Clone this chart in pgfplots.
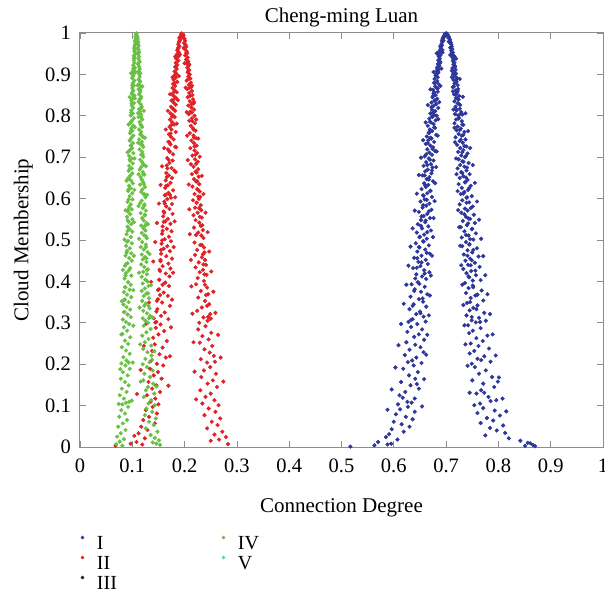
\documentclass[border=0pt]{standalone}
\usepackage{fontspec}
\setmainfont{Liberation Serif}
\usepackage{pgfplots}
\pgfplotsset{compat=1.18}
\definecolor{cI}{RGB}{45,55,155}
\definecolor{cII}{RGB}{222,35,40}
\definecolor{cIII}{RGB}{25,25,25}
\definecolor{cIV}{RGB}{105,192,68}
\definecolor{cV}{RGB}{95,205,190}
\definecolor{axisgray}{RGB}{140,140,140}
\begin{document}
\begin{tikzpicture}
\path[use as bounding box] (-80pt,-148pt) rectangle (525pt,447pt);
\begin{axis}[
  at={(0pt,0pt)}, anchor=south west,
  scale only axis, width=523pt, height=414pt,
  xmin=0, xmax=1, ymin=0, ymax=1,
  xtick={0,0.1,0.2,0.3,0.4,0.5,0.6,0.7,0.8,0.9,1},
  ytick={0,0.1,0.2,0.3,0.4,0.5,0.6,0.7,0.8,0.9,1},
  axis line style={draw=axisgray, line width=1pt},
  tick style={draw=axisgray, line width=0.8pt},
  major tick length=6pt,
  tick align=inside,
  /pgf/number format/assume math mode=true,
  ticklabel style={font=\fontsize{20.5}{20.5}\selectfont},
  xticklabel style={anchor=base, yshift=-25pt},
  yticklabel style={anchor=east, inner sep=0pt, xshift=-9pt},
  title={Cheng-ming Luan},
  title style={at={(axis description cs:0.5,1.0106)}, anchor=base, inner sep=0pt, font=\fontsize{21}{21}\selectfont},
  xlabel={Connection Degree},
  xlabel style={at={(axis description cs:0.5,-0.1594)}, anchor=base, inner sep=0pt, font=\fontsize{21}{21}\selectfont},
  ylabel={Cloud Membership},
  ylabel style={at={(axis description cs:-0.0985,0.5)}, anchor=base, inner sep=0pt, font=\fontsize{21}{21}\selectfont},
  legend columns=2,
  legend cell align=left,
  legend image code/.code={\draw[#1] plot coordinates {(0pt,5pt)};},
  legend style={at={(axis description cs:0,0)}, anchor=north west, xshift=1pt, yshift=-85.5pt,
    draw=none, fill=none, inner sep=0pt, outer sep=0pt,
    font=\fontsize{20}{20}\selectfont, column sep=11pt, row sep=0pt,
    nodes={inner xsep=2pt, inner ysep=3pt, text height=14pt, text depth=0pt}},
]
% ---------------- I (blue) ----------------
\addplot[only marks, mark=*, mark size=1.9pt, color=cI, mark options={draw=none}, forget plot] coordinates {
(0.698,0.998) (0.702,0.997) (0.701,0.999) (0.699,0.996) (0.700,0.999) (0.703,0.995)
(0.696,0.994) (0.704,0.993) (0.705,0.991) (0.695,0.990) (0.697,0.992)
(0.694,0.988) (0.706,0.987) (0.693,0.985) (0.707,0.984)
(0.692,0.981) (0.708,0.980) (0.693,0.978) (0.709,0.976)
(0.691,0.973) (0.710,0.972) (0.692,0.970) (0.689,0.968) (0.711,0.967) (0.708,0.965)
(0.690,0.962) (0.712,0.961) (0.688,0.958) (0.710,0.957) (0.691,0.955) (0.713,0.953)
(0.687,0.950) (0.711,0.949) (0.689,0.946) (0.714,0.945) (0.686,0.943) (0.712,0.941) (0.716,0.944) (0.684,0.952)
(0.688,0.938) (0.715,0.937) (0.685,0.934) (0.713,0.932) (0.689,0.930) (0.716,0.928)
(0.684,0.925) (0.714,0.924) (0.687,0.921) (0.717,0.920) (0.683,0.917) (0.712,0.915)
(0.686,0.912) (0.718,0.911) (0.682,0.908) (0.715,0.906) (0.685,0.904) (0.719,0.902) (0.681,0.901) (0.713,0.900)
(0.680,0.897) (0.717,0.895) (0.684,0.893) (0.721,0.891) (0.678,0.889) (0.714,0.887)
(0.683,0.884) (0.720,0.882) (0.677,0.880) (0.716,0.878) (0.686,0.876) (0.722,0.874)
(0.679,0.871) (0.713,0.869) (0.682,0.867) (0.723,0.865) (0.675,0.863) (0.718,0.861)
(0.684,0.858) (0.721,0.856) (0.676,0.854) (0.715,0.852) (0.680,0.850) (0.725,0.848)
(0.674,0.845) (0.719,0.843) (0.683,0.841) (0.724,0.839) (0.678,0.837) (0.716,0.835)
(0.672,0.832) (0.722,0.830) (0.681,0.828) (0.727,0.826) (0.676,0.824) (0.718,0.822)
(0.685,0.819) (0.726,0.817) (0.673,0.815) (0.720,0.813) (0.679,0.811) (0.729,0.809)
(0.670,0.806) (0.717,0.804) (0.677,0.802) (0.723,0.801) (0.682,0.800) (0.731,0.803)
(0.674,0.797) (0.725,0.795) (0.668,0.793) (0.719,0.791) (0.680,0.789) (0.730,0.787)
(0.671,0.784) (0.716,0.782) (0.676,0.780) (0.733,0.778) (0.665,0.776) (0.722,0.774)
(0.679,0.771) (0.728,0.769) (0.669,0.767) (0.720,0.765) (0.673,0.763) (0.735,0.761)
(0.667,0.758) (0.724,0.756) (0.681,0.754) (0.730,0.752) (0.663,0.750) (0.718,0.748)
(0.672,0.745) (0.737,0.743) (0.666,0.741) (0.726,0.739) (0.677,0.737) (0.732,0.735)
(0.661,0.732) (0.721,0.730) (0.670,0.728) (0.739,0.726) (0.675,0.724) (0.727,0.722)
(0.664,0.719) (0.733,0.717) (0.679,0.715) (0.723,0.713) (0.668,0.711) (0.741,0.709)
(0.673,0.706) (0.729,0.704) (0.659,0.702) (0.736,0.700)
(0.667,0.697) (0.724,0.695) (0.676,0.692) (0.731,0.690) (0.662,0.688) (0.743,0.686)
(0.671,0.683) (0.727,0.681) (0.657,0.679) (0.735,0.677) (0.674,0.675) (0.722,0.673)
(0.665,0.670) (0.739,0.668) (0.660,0.666) (0.729,0.664) (0.672,0.661) (0.745,0.659)
(0.655,0.656) (0.733,0.654) (0.668,0.652) (0.726,0.650) (0.663,0.647) (0.741,0.645)
(0.675,0.642) (0.737,0.640) (0.658,0.637) (0.724,0.635) (0.666,0.633) (0.747,0.631)
(0.661,0.628) (0.730,0.626) (0.653,0.623) (0.742,0.621) (0.670,0.618) (0.735,0.616)
(0.664,0.613) (0.728,0.611) (0.656,0.608) (0.749,0.606) (0.673,0.604) (0.739,0.602)
(0.659,0.598) (0.731,0.596) (0.651,0.593) (0.744,0.591) (0.668,0.588) (0.726,0.586)
(0.662,0.583) (0.751,0.581) (0.655,0.578) (0.736,0.576) (0.672,0.573) (0.741,0.571)
(0.648,0.568) (0.729,0.566) (0.664,0.563) (0.753,0.561) (0.657,0.558) (0.738,0.556)
(0.669,0.553) (0.746,0.551) (0.652,0.548) (0.732,0.546) (0.660,0.543) (0.755,0.541)
(0.646,0.538) (0.740,0.536) (0.666,0.533) (0.728,0.531) (0.654,0.528) (0.749,0.526)
(0.671,0.523) (0.735,0.521) (0.644,0.518) (0.757,0.516) (0.658,0.513) (0.743,0.511)
(0.650,0.508) (0.730,0.506) (0.663,0.503) (0.752,0.501)
(0.656,0.497) (0.738,0.495) (0.642,0.492) (0.745,0.490) (0.667,0.487) (0.731,0.485)
(0.649,0.482) (0.759,0.480) (0.660,0.477) (0.741,0.475) (0.645,0.472) (0.750,0.470)
(0.669,0.467) (0.734,0.465) (0.653,0.462) (0.762,0.460) (0.639,0.457) (0.746,0.455)
(0.661,0.452) (0.737,0.450) (0.647,0.447) (0.755,0.445) (0.665,0.442) (0.742,0.440)
(0.651,0.437) (0.764,0.435) (0.637,0.432) (0.733,0.430) (0.658,0.427) (0.748,0.425)
(0.668,0.422) (0.739,0.420) (0.643,0.417) (0.757,0.415) (0.654,0.412) (0.744,0.410)
(0.662,0.406) (0.766,0.403)
(0.646,0.398) (0.736,0.396) (0.634,0.393) (0.751,0.390) (0.659,0.387) (0.743,0.384)
(0.640,0.381) (0.768,0.378) (0.652,0.375) (0.738,0.372) (0.664,0.369) (0.756,0.366)
(0.632,0.363) (0.747,0.360) (0.648,0.357) (0.771,0.354) (0.656,0.351) (0.740,0.348)
(0.638,0.345) (0.760,0.342) (0.662,0.339) (0.752,0.336) (0.630,0.333) (0.745,0.330)
(0.650,0.327) (0.773,0.324) (0.643,0.321) (0.739,0.318) (0.657,0.315) (0.763,0.312)
(0.636,0.309) (0.749,0.306) (0.661,0.303) (0.757,0.301) (0.628,0.302) (0.776,0.305)
(0.645,0.297) (0.742,0.294) (0.633,0.290) (0.766,0.287) (0.654,0.284) (0.751,0.281)
(0.626,0.278) (0.744,0.275) (0.648,0.272) (0.779,0.269) (0.639,0.266) (0.758,0.263)
(0.658,0.259) (0.770,0.256) (0.624,0.253) (0.747,0.250) (0.641,0.247) (0.762,0.244)
(0.651,0.241) (0.782,0.238) (0.630,0.235) (0.754,0.232) (0.657,0.229) (0.745,0.226)
(0.621,0.222) (0.773,0.219) (0.643,0.216) (0.760,0.213) (0.635,0.209) (0.785,0.206)
(0.653,0.203) (0.749,0.201) (0.627,0.205) (0.767,0.210)
(0.638,0.197) (0.755,0.193) (0.618,0.189) (0.776,0.185) (0.646,0.181) (0.763,0.177)
(0.629,0.173) (0.788,0.169) (0.641,0.165) (0.750,0.161) (0.614,0.157) (0.771,0.153)
(0.632,0.149) (0.792,0.145) (0.648,0.141) (0.767,0.137) (0.622,0.133) (0.758,0.129)
(0.611,0.125) (0.781,0.121) (0.640,0.117) (0.796,0.113) (0.626,0.109) (0.765,0.105)
(0.608,0.103) (0.754,0.101) (0.634,0.107) (0.785,0.111) (0.617,0.119) (0.773,0.131) (0.644,0.152) (0.799,0.158)
(0.627,0.097) (0.771,0.094) (0.612,0.091) (0.793,0.088) (0.640,0.085) (0.760,0.082)
(0.604,0.079) (0.803,0.076) (0.623,0.073) (0.778,0.070) (0.636,0.067) (0.790,0.064)
(0.600,0.061) (0.766,0.058) (0.615,0.055) (0.809,0.052) (0.630,0.049) (0.784,0.046)
(0.596,0.043) (0.797,0.040) (0.619,0.037) (0.813,0.034) (0.591,0.031) (0.775,0.028)
(0.585,0.024) (0.820,0.021) (0.607,0.018) (0.842,0.015) (0.570,0.012) (0.856,0.010)
(0.588,0.006) (0.866,0.005) (0.563,0.004) (0.851,0.003) (0.595,0.008) (0.870,0.002) (0.517,0.001) (0.861,0.009)
(0.693,0.953) (0.708,0.947) (0.691,0.914) (0.711,0.893) (0.689,0.872) (0.713,0.859) (0.687,0.833) (0.714,0.815)
(0.685,0.792) (0.716,0.771) (0.684,0.752) (0.717,0.736) (0.682,0.714) (0.719,0.697) (0.681,0.676) (0.720,0.659)
(0.679,0.637) (0.722,0.618) (0.678,0.594) (0.723,0.572) (0.676,0.553) (0.725,0.531) (0.675,0.507) (0.727,0.486)
(0.673,0.462) (0.729,0.439) (0.671,0.414) (0.731,0.392) (0.669,0.366) (0.733,0.343) (0.667,0.318) (0.735,0.294)
(0.664,0.271) (0.737,0.248) (0.662,0.223) (0.741,0.196) (0.658,0.164) (0.745,0.131) (0.654,0.098)
(0.682,0.951) (0.719,0.938) (0.676,0.906) (0.726,0.889) (0.670,0.864) (0.732,0.846) (0.665,0.826) (0.737,0.806)
(0.661,0.784) (0.742,0.763) (0.656,0.741) (0.746,0.722) (0.652,0.699) (0.751,0.681) (0.648,0.657) (0.755,0.638)
(0.644,0.612) (0.759,0.593) (0.640,0.571) (0.763,0.549) (0.636,0.528) (0.767,0.503) (0.632,0.484) (0.771,0.461)
(0.628,0.438) (0.775,0.415) (0.624,0.392) (0.779,0.369) (0.619,0.346) (0.784,0.321) (0.614,0.297) (0.789,0.272)
(0.609,0.246) (0.795,0.221) (0.603,0.192) (0.801,0.168) (0.596,0.139) (0.808,0.117) (0.588,0.090) (0.815,0.086)
(0.695,0.982) (0.705,0.979) (0.690,0.966) (0.709,0.963) (0.693,0.959) (0.711,0.952)
(0.686,0.947) (0.714,0.935) (0.688,0.927) (0.717,0.918) (0.683,0.913) (0.711,0.909) (0.685,0.906) (0.716,0.903)
(0.681,0.898) (0.719,0.886) (0.679,0.879) (0.715,0.871) (0.684,0.866) (0.722,0.860) (0.677,0.857) (0.718,0.851)
(0.675,0.848) (0.721,0.842) (0.679,0.836) (0.725,0.828) (0.672,0.821) (0.719,0.816) (0.676,0.808) (0.728,0.805)
(0.673,0.799) (0.723,0.793) (0.669,0.786) (0.731,0.779) (0.677,0.772) (0.726,0.766) (0.667,0.760) (0.733,0.754)
(0.670,0.747) (0.728,0.742) (0.665,0.734) (0.735,0.727) (0.674,0.720) (0.731,0.712) (0.662,0.707) (0.738,0.703)
(0.669,0.694) (0.733,0.689) (0.664,0.681) (0.740,0.675) (0.673,0.668) (0.731,0.662) (0.659,0.656) (0.738,0.651)
(0.667,0.646) (0.736,0.639) (0.660,0.632) (0.744,0.625) (0.670,0.619) (0.733,0.612) (0.657,0.607) (0.740,0.603)
(0.663,0.597) (0.739,0.590) (0.656,0.584) (0.747,0.577) (0.667,0.569) (0.735,0.562) (0.653,0.557) (0.743,0.552)
(0.661,0.547) (0.742,0.540) (0.652,0.534) (0.750,0.527) (0.664,0.519) (0.738,0.512) (0.649,0.507) (0.746,0.502)
(0.657,0.496) (0.744,0.489) (0.648,0.483) (0.752,0.476) (0.663,0.469) (0.741,0.462) (0.645,0.456) (0.749,0.451)
(0.653,0.446) (0.747,0.439) (0.644,0.433) (0.756,0.426) (0.659,0.419) (0.743,0.412) (0.641,0.407) (0.751,0.402)
(0.649,0.394) (0.752,0.386) (0.639,0.377) (0.760,0.368) (0.655,0.359) (0.746,0.350) (0.636,0.341) (0.758,0.333)
(0.651,0.323) (0.749,0.314) (0.633,0.307) (0.765,0.302)
};
% ---------------- II (red) ----------------
\addplot[only marks, mark=*, mark size=1.9pt, color=cII, mark options={draw=none}, forget plot] coordinates {
(0.194,0.999) (0.196,0.997) (0.193,0.995) (0.198,0.994) (0.192,0.992) (0.197,0.990)
(0.190,0.988) (0.200,0.986) (0.191,0.983) (0.201,0.981) (0.189,0.978) (0.199,0.976)
(0.188,0.973) (0.202,0.971) (0.190,0.968) (0.203,0.966) (0.187,0.963) (0.200,0.961)
(0.186,0.958) (0.204,0.956) (0.189,0.953) (0.205,0.951) (0.185,0.948) (0.201,0.946)
(0.187,0.943) (0.206,0.941) (0.184,0.938) (0.203,0.936) (0.188,0.933) (0.207,0.931)
(0.183,0.928) (0.204,0.926) (0.186,0.923) (0.208,0.921) (0.182,0.918) (0.205,0.916)
(0.185,0.913) (0.209,0.911) (0.181,0.907) (0.206,0.905) (0.184,0.902) (0.210,0.900)
(0.192,0.985) (0.198,0.964) (0.189,0.945)
(0.180,0.897) (0.207,0.895) (0.183,0.892) (0.211,0.890) (0.179,0.887) (0.204,0.885)
(0.186,0.882) (0.212,0.880) (0.178,0.877) (0.208,0.875) (0.182,0.872) (0.213,0.870)
(0.177,0.867) (0.205,0.865) (0.181,0.862) (0.214,0.860) (0.185,0.857) (0.209,0.855)
(0.176,0.852) (0.215,0.850) (0.180,0.847) (0.206,0.845) (0.184,0.842) (0.216,0.840)
(0.175,0.837) (0.210,0.835) (0.179,0.832) (0.217,0.830) (0.183,0.827) (0.207,0.825)
(0.174,0.822) (0.213,0.820) (0.178,0.817) (0.218,0.815) (0.182,0.812) (0.211,0.810)
(0.173,0.806) (0.208,0.804) (0.177,0.802) (0.219,0.800)
(0.181,0.797) (0.214,0.794) (0.172,0.791) (0.209,0.788) (0.176,0.785) (0.220,0.782)
(0.180,0.779) (0.212,0.776) (0.171,0.773) (0.216,0.770) (0.175,0.767) (0.221,0.764)
(0.183,0.761) (0.210,0.758) (0.170,0.755) (0.217,0.752) (0.174,0.749) (0.222,0.746)
(0.179,0.743) (0.213,0.740) (0.169,0.737) (0.218,0.734) (0.173,0.731) (0.223,0.728)
(0.182,0.725) (0.211,0.722) (0.168,0.719) (0.219,0.716) (0.172,0.713) (0.224,0.710)
(0.178,0.707) (0.215,0.704)
(0.167,0.698) (0.220,0.695) (0.177,0.692) (0.225,0.689) (0.171,0.686) (0.212,0.683)
(0.166,0.680) (0.217,0.677) (0.175,0.674) (0.226,0.671) (0.180,0.668) (0.221,0.665)
(0.165,0.662) (0.214,0.659) (0.170,0.656) (0.227,0.653) (0.176,0.650) (0.218,0.647)
(0.164,0.644) (0.222,0.641) (0.173,0.638) (0.228,0.635) (0.168,0.632) (0.215,0.629)
(0.163,0.626) (0.224,0.623) (0.178,0.620) (0.229,0.617) (0.169,0.614) (0.219,0.611)
(0.162,0.608) (0.226,0.605) (0.174,0.602) (0.230,0.604) (0.172,0.609)
(0.167,0.599) (0.216,0.596) (0.161,0.593) (0.223,0.590) (0.176,0.587) (0.231,0.584)
(0.165,0.581) (0.220,0.578) (0.171,0.575) (0.232,0.572) (0.160,0.569) (0.225,0.566)
(0.177,0.563) (0.217,0.560) (0.159,0.557) (0.233,0.554) (0.168,0.551) (0.221,0.548)
(0.163,0.545) (0.228,0.542) (0.173,0.539) (0.234,0.536) (0.158,0.533) (0.218,0.530)
(0.166,0.527) (0.235,0.524) (0.175,0.521) (0.226,0.518) (0.157,0.515) (0.222,0.512)
(0.170,0.508) (0.236,0.505) (0.162,0.502)
(0.174,0.497) (0.219,0.494) (0.156,0.491) (0.230,0.488) (0.167,0.485) (0.237,0.482)
(0.160,0.479) (0.224,0.476) (0.172,0.473) (0.238,0.470) (0.155,0.467) (0.220,0.464)
(0.165,0.461) (0.233,0.458) (0.176,0.455) (0.239,0.452) (0.154,0.449) (0.227,0.446)
(0.169,0.443) (0.241,0.440) (0.158,0.437) (0.221,0.434) (0.173,0.431) (0.235,0.428)
(0.153,0.425) (0.229,0.422) (0.164,0.419) (0.242,0.416) (0.171,0.412) (0.225,0.408)
(0.152,0.404) (0.237,0.401)
(0.163,0.397) (0.222,0.393) (0.170,0.389) (0.243,0.385) (0.151,0.381) (0.231,0.377)
(0.160,0.373) (0.245,0.369) (0.168,0.365) (0.226,0.361) (0.149,0.357) (0.239,0.353)
(0.157,0.349) (0.247,0.345) (0.172,0.341) (0.233,0.337) (0.148,0.333) (0.224,0.329)
(0.162,0.325) (0.249,0.321) (0.155,0.317) (0.236,0.313) (0.169,0.309) (0.244,0.305)
(0.146,0.302) (0.228,0.300) (0.250,0.310) (0.158,0.392) (0.141,0.311) (0.153,0.367)
(0.154,0.296) (0.240,0.292) (0.145,0.288) (0.226,0.284) (0.161,0.280) (0.251,0.276)
(0.150,0.272) (0.234,0.268) (0.140,0.264) (0.246,0.260) (0.166,0.256) (0.229,0.252)
(0.143,0.248) (0.253,0.244) (0.158,0.240) (0.238,0.236) (0.138,0.232) (0.248,0.228)
(0.152,0.224) (0.256,0.220) (0.164,0.216) (0.231,0.212) (0.136,0.208) (0.243,0.204)
(0.147,0.201) (0.258,0.206)
(0.159,0.197) (0.249,0.193) (0.134,0.189) (0.237,0.185) (0.149,0.181) (0.260,0.177)
(0.141,0.173) (0.232,0.169) (0.156,0.165) (0.254,0.161) (0.131,0.157) (0.244,0.153)
(0.146,0.149) (0.262,0.145) (0.138,0.141) (0.230,0.137) (0.153,0.133) (0.250,0.129)
(0.128,0.125) (0.240,0.121) (0.144,0.117) (0.257,0.113) (0.135,0.109) (0.234,0.105)
(0.150,0.103) (0.265,0.101)
(0.139,0.097) (0.246,0.093) (0.126,0.089) (0.259,0.085) (0.147,0.081) (0.238,0.077)
(0.132,0.073) (0.268,0.069) (0.121,0.065) (0.252,0.061) (0.143,0.057) (0.263,0.053)
(0.117,0.049) (0.243,0.045) (0.129,0.041) (0.272,0.037) (0.112,0.033) (0.257,0.030)
(0.104,0.027) (0.279,0.024) (0.124,0.021) (0.266,0.018) (0.108,0.012) (0.250,0.015)
(0.097,0.008) (0.068,0.003) (0.119,0.006) (0.283,0.007)
(0.191,0.948) (0.200,0.927) (0.189,0.896) (0.202,0.868) (0.187,0.838) (0.204,0.809) (0.185,0.781) (0.205,0.752)
(0.184,0.724) (0.206,0.693) (0.183,0.664) (0.208,0.634) (0.182,0.603) (0.209,0.574) (0.181,0.545) (0.210,0.514)
(0.179,0.483) (0.212,0.452) (0.178,0.421) (0.213,0.388) (0.176,0.356) (0.215,0.322) (0.174,0.289) (0.217,0.253)
(0.172,0.219) (0.219,0.182) (0.169,0.148) (0.222,0.115)
(0.182,0.943) (0.209,0.924) (0.177,0.893) (0.214,0.873) (0.172,0.852) (0.218,0.833) (0.168,0.812) (0.222,0.791)
(0.164,0.767) (0.226,0.745) (0.161,0.722) (0.229,0.701) (0.157,0.678) (0.233,0.655) (0.154,0.633) (0.236,0.611)
(0.151,0.588) (0.240,0.566) (0.147,0.541) (0.244,0.519) (0.144,0.495) (0.247,0.472) (0.140,0.448) (0.251,0.424)
(0.136,0.399) (0.255,0.375) (0.132,0.349) (0.259,0.324) (0.127,0.298) (0.264,0.271) (0.122,0.244) (0.269,0.216)
(0.116,0.186) (0.274,0.158) (0.109,0.128)
(0.190,0.980) (0.201,0.972) (0.188,0.962) (0.203,0.952) (0.186,0.941) (0.206,0.931) (0.184,0.919) (0.207,0.908)
(0.183,0.899) (0.208,0.889) (0.181,0.879) (0.210,0.868) (0.180,0.858) (0.211,0.848) (0.178,0.838) (0.213,0.828)
(0.177,0.818) (0.214,0.808) (0.176,0.798) (0.215,0.787) (0.174,0.777) (0.217,0.767) (0.173,0.757) (0.218,0.747)
(0.171,0.736) (0.219,0.726) (0.170,0.716) (0.221,0.706) (0.169,0.694) (0.222,0.684) (0.167,0.673) (0.223,0.663)
(0.166,0.652) (0.224,0.642) (0.165,0.631) (0.226,0.621) (0.164,0.609) (0.227,0.599) (0.162,0.588) (0.228,0.577)
(0.161,0.566) (0.229,0.556) (0.160,0.544) (0.231,0.534) (0.158,0.522) (0.232,0.511) (0.157,0.499) (0.233,0.488)
(0.155,0.476) (0.235,0.465) (0.154,0.452) (0.236,0.441) (0.152,0.428) (0.238,0.417) (0.151,0.404) (0.239,0.392)
(0.149,0.379) (0.241,0.367) (0.147,0.353) (0.243,0.341) (0.146,0.327) (0.245,0.314) (0.144,0.301)
};
% ---------------- IV (green) ----------------
\addplot[only marks, mark=*, mark size=1.9pt, color=cIV, mark options={draw=none}, forget plot] coordinates {
(0.108,0.999) (0.107,0.996) (0.109,0.994) (0.106,0.991) (0.110,0.989) (0.107,0.986)
(0.110,0.984) (0.105,0.981) (0.111,0.979) (0.106,0.976) (0.111,0.974) (0.105,0.971)
(0.112,0.969) (0.104,0.966) (0.110,0.964) (0.105,0.961) (0.112,0.959) (0.104,0.956)
(0.113,0.953) (0.106,0.951) (0.111,0.948) (0.103,0.945) (0.113,0.943) (0.105,0.940)
(0.112,0.937) (0.103,0.934) (0.114,0.931) (0.104,0.928) (0.111,0.925) (0.102,0.922)
(0.113,0.919) (0.105,0.916) (0.114,0.913) (0.102,0.910) (0.112,0.907) (0.103,0.904)
(0.115,0.902) (0.101,0.900) (0.113,0.901) (0.104,0.909)
(0.102,0.897) (0.114,0.894) (0.100,0.891) (0.112,0.888) (0.104,0.885) (0.115,0.882)
(0.101,0.879) (0.113,0.876) (0.103,0.873) (0.116,0.870) (0.100,0.867) (0.112,0.864)
(0.102,0.861) (0.115,0.858) (0.099,0.855) (0.113,0.852) (0.104,0.849) (0.117,0.846)
(0.101,0.843) (0.114,0.840) (0.098,0.837) (0.112,0.834) (0.103,0.831) (0.116,0.828)
(0.099,0.825) (0.118,0.822) (0.102,0.819) (0.113,0.816) (0.098,0.813) (0.115,0.810)
(0.101,0.806) (0.117,0.803) (0.097,0.801)
(0.112,0.797) (0.103,0.794) (0.119,0.791) (0.099,0.788) (0.114,0.785) (0.096,0.782)
(0.116,0.779) (0.102,0.776) (0.119,0.773) (0.098,0.770) (0.113,0.767) (0.100,0.764)
(0.117,0.761) (0.096,0.758) (0.115,0.755) (0.102,0.752) (0.120,0.749) (0.098,0.746)
(0.113,0.743) (0.095,0.740) (0.118,0.737) (0.101,0.734) (0.116,0.731) (0.097,0.728)
(0.121,0.725) (0.100,0.722) (0.114,0.719) (0.095,0.716) (0.119,0.713) (0.102,0.710)
(0.117,0.706) (0.094,0.703) (0.121,0.701)
(0.099,0.697) (0.115,0.694) (0.096,0.691) (0.119,0.688) (0.101,0.685) (0.122,0.682)
(0.094,0.679) (0.117,0.676) (0.099,0.673) (0.114,0.670) (0.093,0.667) (0.120,0.664)
(0.100,0.661) (0.123,0.658) (0.096,0.655) (0.116,0.652) (0.092,0.649) (0.118,0.646)
(0.098,0.643) (0.121,0.640) (0.101,0.637) (0.115,0.634) (0.094,0.631) (0.124,0.628)
(0.097,0.625) (0.119,0.622) (0.092,0.619) (0.117,0.616) (0.100,0.613) (0.122,0.610)
(0.095,0.606) (0.125,0.603)
(0.100,0.598) (0.118,0.595) (0.091,0.592) (0.115,0.589) (0.097,0.586) (0.123,0.583)
(0.094,0.580) (0.120,0.577) (0.099,0.574) (0.126,0.571) (0.092,0.568) (0.116,0.565)
(0.096,0.562) (0.124,0.559) (0.090,0.556) (0.119,0.553) (0.100,0.550) (0.122,0.547)
(0.093,0.544) (0.127,0.541) (0.098,0.538) (0.117,0.535) (0.091,0.532) (0.121,0.529)
(0.095,0.526) (0.125,0.523) (0.100,0.520) (0.118,0.517) (0.089,0.514) (0.123,0.511)
(0.097,0.507) (0.128,0.504)
(0.092,0.498) (0.119,0.495) (0.099,0.492) (0.126,0.489) (0.088,0.486) (0.116,0.483)
(0.095,0.480) (0.122,0.477) (0.090,0.474) (0.129,0.471) (0.098,0.468) (0.118,0.465)
(0.087,0.462) (0.124,0.459) (0.094,0.456) (0.120,0.453) (0.099,0.450) (0.127,0.447)
(0.091,0.444) (0.117,0.441) (0.086,0.438) (0.123,0.435) (0.096,0.432) (0.130,0.429)
(0.093,0.426) (0.121,0.423) (0.088,0.420) (0.128,0.417) (0.098,0.414) (0.118,0.411)
(0.085,0.407) (0.125,0.404)
(0.092,0.398) (0.120,0.395) (0.097,0.392) (0.131,0.389) (0.087,0.386) (0.124,0.383)
(0.095,0.380) (0.118,0.377) (0.084,0.374) (0.127,0.371) (0.090,0.368) (0.122,0.365)
(0.098,0.362) (0.132,0.359) (0.086,0.356) (0.119,0.353) (0.093,0.350) (0.126,0.347)
(0.083,0.344) (0.123,0.341) (0.089,0.338) (0.133,0.335) (0.096,0.332) (0.121,0.329)
(0.085,0.326) (0.128,0.323) (0.091,0.320) (0.134,0.317) (0.097,0.314) (0.120,0.311)
(0.082,0.308) (0.125,0.305) (0.088,0.302) (0.130,0.300)
(0.094,0.297) (0.122,0.293) (0.084,0.289) (0.135,0.285) (0.090,0.281) (0.127,0.277)
(0.081,0.273) (0.119,0.269) (0.096,0.265) (0.131,0.261) (0.086,0.257) (0.124,0.253)
(0.092,0.249) (0.136,0.245) (0.080,0.241) (0.121,0.237) (0.088,0.233) (0.129,0.229)
(0.095,0.225) (0.137,0.221) (0.083,0.217) (0.125,0.213) (0.089,0.209) (0.133,0.205)
(0.079,0.202) (0.120,0.200) (0.093,0.204) (0.138,0.211)
(0.087,0.197) (0.128,0.193) (0.095,0.189) (0.139,0.185) (0.082,0.181) (0.123,0.177)
(0.091,0.173) (0.134,0.169) (0.078,0.165) (0.121,0.161) (0.086,0.157) (0.140,0.153)
(0.093,0.149) (0.130,0.145) (0.080,0.141) (0.126,0.137) (0.089,0.133) (0.142,0.129)
(0.076,0.125) (0.122,0.121) (0.084,0.117) (0.136,0.113) (0.094,0.109) (0.131,0.105)
(0.081,0.103) (0.143,0.101) (0.088,0.107)
(0.092,0.097) (0.127,0.093) (0.079,0.089) (0.138,0.085) (0.086,0.081) (0.124,0.077)
(0.075,0.073) (0.145,0.069) (0.090,0.065) (0.132,0.061) (0.082,0.057) (0.141,0.053)
(0.073,0.049) (0.126,0.045) (0.087,0.041) (0.148,0.037) (0.078,0.033) (0.135,0.029)
(0.071,0.025) (0.143,0.022) (0.084,0.019) (0.151,0.016) (0.076,0.013) (0.139,0.011)
(0.069,0.007) (0.153,0.005) (0.081,0.003) (0.146,0.008)
(0.106,0.905) (0.110,0.874) (0.105,0.842) (0.111,0.806) (0.105,0.772) (0.111,0.735) (0.104,0.697)
(0.112,0.659) (0.104,0.621) (0.112,0.582) (0.103,0.543) (0.113,0.503) (0.103,0.462) (0.113,0.421)
(0.102,0.379) (0.114,0.337) (0.102,0.293) (0.115,0.248) (0.101,0.204) (0.116,0.158) (0.099,0.112)
(0.098,0.903) (0.119,0.871) (0.095,0.845) (0.122,0.812) (0.093,0.779) (0.124,0.747) (0.091,0.712) (0.126,0.678)
(0.089,0.643) (0.128,0.609) (0.087,0.572) (0.130,0.538) (0.085,0.501) (0.133,0.466) (0.082,0.428) (0.136,0.391)
(0.080,0.352) (0.139,0.313) (0.079,0.272) (0.142,0.231) (0.077,0.188) (0.146,0.146) (0.074,0.104)
(0.106,0.983) (0.110,0.977) (0.104,0.962) (0.112,0.954) (0.103,0.939) (0.113,0.929) (0.102,0.915) (0.114,0.905)
(0.101,0.895) (0.114,0.885) (0.100,0.874) (0.115,0.863) (0.100,0.852) (0.116,0.841) (0.099,0.830) (0.117,0.819)
(0.098,0.808) (0.117,0.797) (0.098,0.786) (0.118,0.775) (0.097,0.764) (0.119,0.752) (0.096,0.741) (0.119,0.730)
(0.096,0.718) (0.120,0.707) (0.095,0.695) (0.121,0.683) (0.095,0.671) (0.121,0.659) (0.094,0.647) (0.122,0.635)
(0.093,0.623) (0.123,0.611) (0.093,0.598) (0.123,0.586) (0.092,0.573) (0.124,0.561) (0.091,0.548) (0.125,0.535)
(0.091,0.522) (0.126,0.509) (0.090,0.496) (0.126,0.483) (0.089,0.469) (0.127,0.456) (0.088,0.442) (0.128,0.428)
(0.087,0.414) (0.129,0.400) (0.086,0.386) (0.130,0.371) (0.085,0.356) (0.131,0.341) (0.084,0.326) (0.132,0.311)
};
% ---------------- legend ----------------
\addlegendimage{only marks, mark=*, mark size=1.5pt, color=cI, mark options={draw=none}}
\addlegendentry{\makebox[112pt][l]{I}}
\addlegendimage{only marks, mark=*, mark size=1.5pt, color=cIV, mark options={draw=none}}
\addlegendentry{IV}
\addlegendimage{only marks, mark=*, mark size=1.5pt, color=cII, mark options={draw=none}}
\addlegendentry{\makebox[112pt][l]{II}}
\addlegendimage{only marks, mark=*, mark size=1.5pt, color=cV, mark options={draw=none}}
\addlegendentry{V}
\addlegendimage{only marks, mark=*, mark size=1.5pt, color=cIII, mark options={draw=none}}
\addlegendentry{\makebox[112pt][l]{III}}
\end{axis}
\end{tikzpicture}
\end{document}
